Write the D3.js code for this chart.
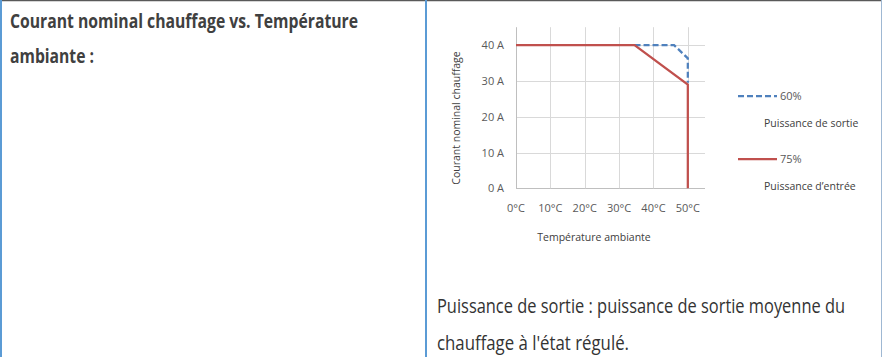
<!DOCTYPE html>
<html><head><meta charset="utf-8">
<script src="https://cdn.jsdelivr.net/npm/d3@7"></script>
<style>
html,body{margin:0;padding:0;background:#fff;}
svg{display:block;}
</style></head>
<body>
<svg id="c" width="882" height="357"></svg>
<script>
const xTicks = [0, 10, 20, 30, 40, 50];
const yTicks = [0, 10, 20, 30, 40];
const outputTemp = [34.5, 46, 50, 50];
const outputCurrent = [40, 40, 36.3, 29.5];
const inputTemp = [0, 34.5, 50, 50];
const inputCurrent = [40, 40, 29, 0];
const legendLabels = ["60%", "75%"];
const legendSubLabels = ["Puissance de sortie", "Puissance d\u2019entrée"];

const svg = d3.select("#c");
const font = "'Open Sans', sans-serif";

// table borders
svg.append("line").attr("x1",0).attr("x2",882).attr("y1",0.5).attr("y2",0.5).attr("stroke","#595959").attr("stroke-width",1.5);
svg.append("line").attr("x1",1).attr("x2",1).attr("y1",0).attr("y2",357).attr("stroke","#5b9bd5").attr("stroke-width",2);
svg.append("line").attr("x1",426).attr("x2",426).attr("y1",0).attr("y2",357).attr("stroke","#5b9bd5").attr("stroke-width",2);
svg.append("line").attr("x1",881.5).attr("x2",881.5).attr("y1",0).attr("y2",357).attr("stroke","#9fb8d3").attr("stroke-width",1);

// title
svg.append("text").attr("x",10).attr("y",28).attr("fill","#404040").attr("font-family",font)
  .attr("font-weight","bold").attr("font-size",20).attr("textLength",348).attr("lengthAdjust","spacingAndGlyphs")
  .text("Courant nominal chauffage vs. Température");
svg.append("text").attr("x",10).attr("y",63).attr("fill","#404040").attr("font-family",font)
  .attr("font-weight","bold").attr("font-size",20).attr("textLength",84).attr("lengthAdjust","spacingAndGlyphs")
  .text("ambiante :");

// bottom note
svg.append("text").attr("x",437).attr("y",313).attr("fill","#333").attr("font-family",font)
  .attr("font-size",20).attr("textLength",408).attr("lengthAdjust","spacingAndGlyphs")
  .text("Puissance de sortie : puissance de sortie moyenne du");
svg.append("text").attr("x",437).attr("y",350).attr("fill","#333").attr("font-family",font)
  .attr("font-size",20).attr("textLength",192).attr("lengthAdjust","spacingAndGlyphs")
  .text("chauffage à l'état régulé.");

// chart
const x = d3.scaleLinear().domain([0,55]).range([516,705]);
const y = d3.scaleLinear().domain([0,45]).range([188.3,27.2]);

const g = svg.append("g");
// horizontal grid
g.selectAll(".hg").data(yTicks).join("line")
  .attr("x1",x(0)).attr("x2",x(55)).attr("y1",d=>Math.round(y(d))+0.5).attr("y2",d=>Math.round(y(d))+0.5)
  .attr("stroke",d=>d===0?"#bfbfbf":"#d9d9d9").attr("stroke-width",1);
// vertical grid
g.selectAll(".vg").data(xTicks).join("line")
  .attr("x1",d=>Math.round(x(d))+0.5).attr("x2",d=>Math.round(x(d))+0.5).attr("y1",y(45)).attr("y2",y(0))
  .attr("stroke",d=>d===0?"#bfbfbf":"#d9d9d9").attr("stroke-width",1);

// y tick labels
g.selectAll(".yl").data(yTicks).join("text")
  .attr("x",504).attr("y",d=>y(d)+4).attr("text-anchor","end")
  .attr("font-family",font).attr("font-size",11).attr("fill","#595959")
  .text(d=>d+" A");
// x tick labels
g.selectAll(".xl").data(xTicks).join("text")
  .attr("x",d=>x(d)).attr("y",212).attr("text-anchor","middle")
  .attr("font-family",font).attr("font-size",11).attr("fill","#595959")
  .text(d=>d+"°C");
// axis titles
svg.append("text").attr("transform","translate(460,118) rotate(-90)").attr("text-anchor","middle")
  .attr("font-family",font).attr("font-size",10.5).attr("fill","#404040").text("Courant nominal chauffage");
svg.append("text").attr("x",594).attr("y",241).attr("text-anchor","middle")
  .attr("font-family",font).attr("font-size",10.5).attr("fill","#404040").text("Température ambiante");

const line = d3.line().x(d=>x(d[0])).y(d=>y(d[1]));
const outPts = outputTemp.map((t,i)=>[t,outputCurrent[i]]);
const inPts = inputTemp.map((t,i)=>[t,inputCurrent[i]]);
g.append("path").attr("d",line(outPts)).attr("fill","none").attr("stroke","#4f81bd")
  .attr("stroke-width",2.25).attr("stroke-dasharray","6,3");
g.append("path").attr("d",line(inPts)).attr("fill","none").attr("stroke","#c0504d")
  .attr("stroke-width",2.25);

// legend
const lg = svg.append("g");
const ly = [96, 159];
const colors = ["#4f81bd","#c0504d"];
const dashes = ["6,3", null];
legendLabels.forEach((lab,i)=>{
  lg.append("line").attr("x1",738).attr("x2",777).attr("y1",ly[i]).attr("y2",ly[i])
    .attr("stroke",colors[i]).attr("stroke-width",2.25).attr("stroke-dasharray",dashes[i]);
  lg.append("text").attr("x",780).attr("y",ly[i]+4).attr("font-family",font).attr("font-size",11)
    .attr("fill","#595959").text(lab);
  lg.append("text").attr("x",764).attr("y",ly[i]+31).attr("font-family",font).attr("font-size",10.5)
    .attr("fill","#404040").text(legendSubLabels[i]);
});
</script>
</body></html>
